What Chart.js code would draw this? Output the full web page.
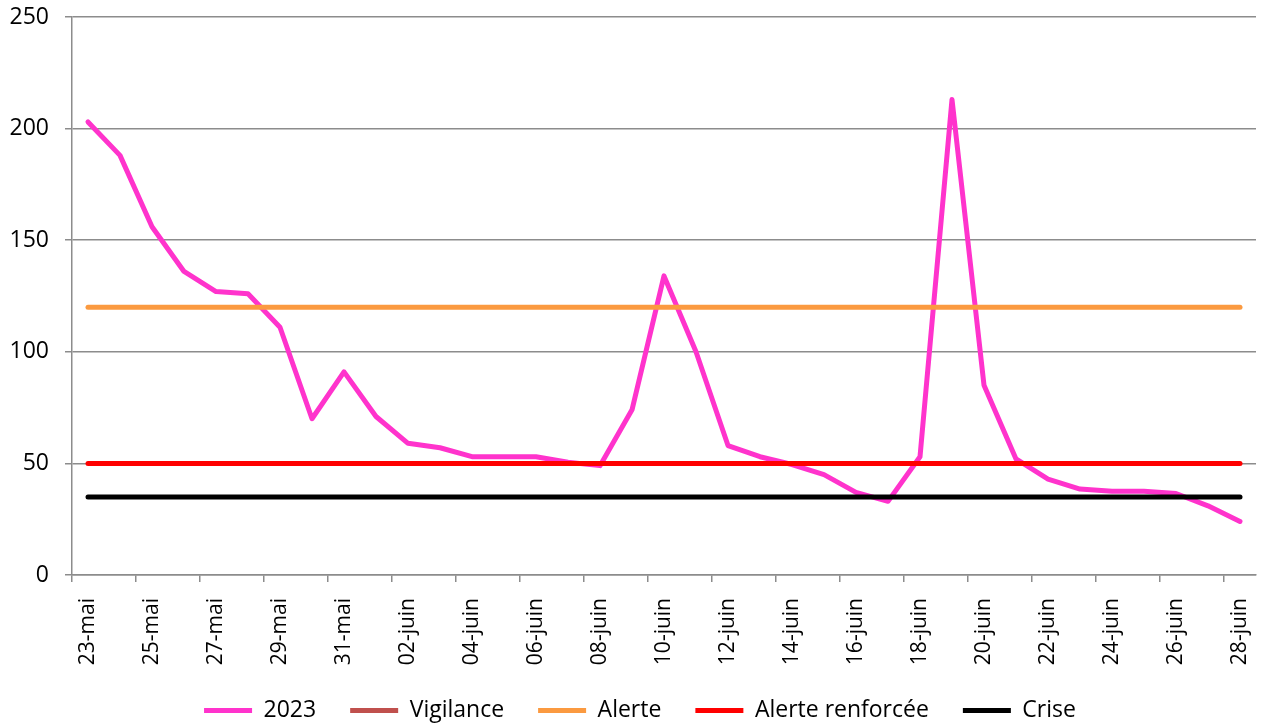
<!DOCTYPE html>
<html lang="fr">
<head>
  <meta charset="UTF-8">
  <title>Débit 2023 et seuils</title>
  <script src="https://cdn.jsdelivr.net/npm/chart.js@4.4.0/dist/chart.umd.min.js"></script>
  <style>
    body { margin: 0; background: #fff; }
    #wrap { width: 1267px; height: 726px; }
  </style>
</head>
<body>
  <div id="wrap"><canvas id="chart"></canvas></div>
  <script>
    const dates = [
      '23-mai', '24-mai', '25-mai', '26-mai', '27-mai', '28-mai', '29-mai', '30-mai', '31-mai',
      '01-juin', '02-juin', '03-juin', '04-juin', '05-juin', '06-juin', '07-juin', '08-juin',
      '09-juin', '10-juin', '11-juin', '12-juin', '13-juin', '14-juin', '15-juin', '16-juin',
      '17-juin', '18-juin', '19-juin', '20-juin', '21-juin', '22-juin', '23-juin', '24-juin',
      '25-juin', '26-juin', '27-juin', '28-juin'
    ];
    const serie2023 = [
      203, 188, 156, 136, 127, 126, 111, 70, 91,
      71, 59, 57, 53, 53, 53, 50.5, 49,
      74, 134, 100, 58, 53, 49.5, 45, 37,
      33, 53, 213, 85, 52, 43, 38.5, 37.5,
      37.5, 36.5, 31, 24
    ];
    // seuils : valeur au premier et au dernier jour
    const vigilance = [];
    const alerte = [120, 120];
    const alerteRenforcee = [50, 50];
    const crise = [35, 35];
    const yTicks = [0, 50, 100, 150, 200, 250];

    const FONT = 'Open Sans';
    const GRID = '#8c8c8c';

    function seuil(values) {
      return values.map((v, i) => ({ x: i === 0 ? dates[0] : dates[dates.length - 1], y: v }));
    }

    function lineSet(label, data, color, order) {
      return {
        label: label,
        data: data,
        borderColor: color,
        backgroundColor: color,
        borderWidth: 5,
        pointRadius: 0,
        tension: 0,
        borderCapStyle: 'round',
        borderJoinStyle: 'round',
        order: order
      };
    }

    // pas de marge automatique : la zone du graphe est fixée par layout.padding
    function noAutoPadding(scale) {
      scale.paddingTop = 0;
      scale.paddingBottom = 0;
      scale.paddingLeft = 0;
      scale.paddingRight = 0;
    }

    // la légende est centrée sur toute la largeur de l'image, pas sur la zone du graphe
    const centerLegend = {
      id: 'centerLegend',
      afterLayout(chart) {
        chart.legend.left += 24;
      }
    };

    const ctx = document.getElementById('chart').getContext('2d');
    const chart = new Chart(ctx, {
      type: 'line',
      data: {
        labels: dates,
        datasets: [
          lineSet('2023', serie2023, '#FF33CC', 5),
          lineSet('Vigilance', vigilance, '#C0504D', 4),
          lineSet('Alerte', seuil(alerte), '#FB9A40', 3),
          lineSet('Alerte renforcée', seuil(alerteRenforcee), '#FF0000', 2),
          lineSet('Crise', seuil(crise), '#000000', 1)
        ]
      },
      options: {
        responsive: true,
        maintainAspectRatio: false,
        animation: false,
        layout: { padding: { top: 17, right: 11, left: 0, bottom: -6 } },
        plugins: {
          tooltip: { enabled: false },
          legend: {
            position: 'bottom',
            labels: {
              sort: (a, b) => a.datasetIndex - b.datasetIndex,
              usePointStyle: true,
              pointStyle: 'line',
              pointStyleWidth: 48,
              padding: 34,
              color: '#000',
              font: { family: FONT, size: 23 }
            }
          }
        },
        scales: {
          x: {
            offset: true,
            afterFit: (scale) => { scale.height = 90; noAutoPadding(scale); },
            grid: {
              offset: true,
              drawOnChartArea: false,
              tickLength: 7,
              lineWidth: 1.5,
              tickColor: (c) => (c.index % 2 === 0 ? GRID : 'rgba(0,0,0,0)')
            },
            border: { color: GRID, width: 1.5 },
            ticks: {
              autoSkip: false,
              maxRotation: 90,
              minRotation: 90,
              padding: 16,
              color: '#000',
              font: { family: FONT, size: 21 },
              callback: (val, i) => (i % 2 === 0 ? dates[i] : '')
            }
          },
          y: {
            min: 0,
            max: 250,
            afterFit: (scale) => { scale.width = 72; noAutoPadding(scale); },
            afterBuildTicks: (scale) => { scale.ticks = yTicks.map(v => ({ value: v })); },
            grid: { color: GRID, lineWidth: 1.5, tickLength: 7 },
            border: { color: GRID, width: 1.5 },
            ticks: {
              padding: 16,
              color: '#000',
              font: { family: FONT, size: 23 }
            }
          }
        }
      },
      plugins: [centerLegend]
    });
  </script>
</body>
</html>
